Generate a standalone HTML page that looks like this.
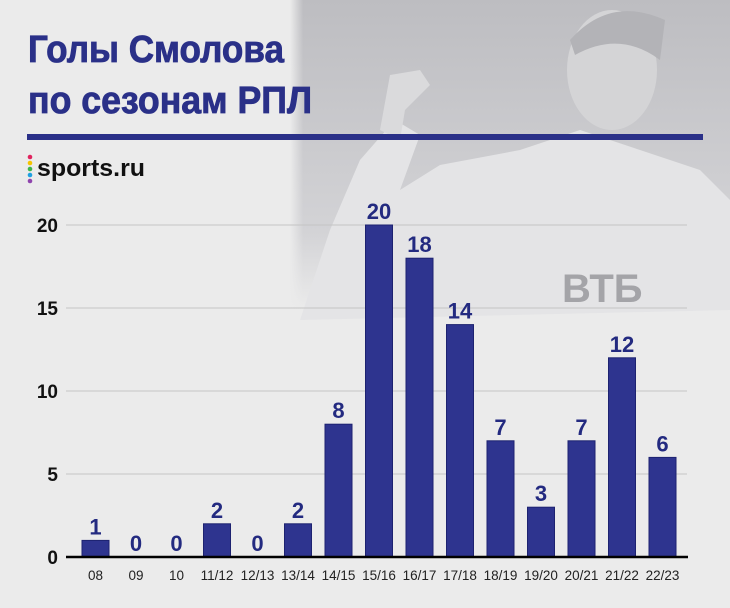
<!DOCTYPE html>
<html><head><meta charset="utf-8"><style>
html,body{margin:0;padding:0;background:#ebebeb;}
svg{display:block;}
</style></head><body>
<svg width="730" height="608" viewBox="0 0 730 608" xmlns="http://www.w3.org/2000/svg">
<defs>
<linearGradient id="fadeB" x1="0" y1="0" x2="0" y2="1">
<stop offset="0" stop-color="#bdbdc1"/><stop offset="0.75" stop-color="#d3d3d6"/><stop offset="1" stop-color="#ebebeb"/>
</linearGradient>
<linearGradient id="fadeL" x1="0" y1="0" x2="1" y2="0">
<stop offset="0" stop-color="#ebebeb" stop-opacity="1"/><stop offset="0.03" stop-color="#ebebeb" stop-opacity="0"/>
</linearGradient>
</defs>
<rect width="730" height="608" fill="#ebebeb"/>
<g>
<rect x="290" y="0" width="440" height="310" fill="url(#fadeB)"/>
<path d="M300 320 L330 230 L360 160 L395 120 L420 135 L400 190 L440 165 L520 150 L580 130 L640 150 L700 170 L730 200 L730 310 Z" fill="#e4e4e6"/>
<path d="M380 130 L390 75 L420 70 L430 85 L405 110 L400 140 Z" fill="#dadadc"/>
<ellipse cx="612" cy="70" rx="45" ry="60" fill="#d4d4d6"/>
<path d="M570 40 Q610 -5 665 20 L660 60 Q620 30 575 55 Z" fill="#b3b3b7"/>
<text x="562" y="302" font-family="Liberation Sans, sans-serif" font-weight="bold" font-size="40" fill="#a4a4a8">ВТБ</text>
<rect x="290" y="0" width="440" height="310" fill="url(#fadeL)"/>
</g>
<text x="28" y="62" font-family="Liberation Sans, sans-serif" font-weight="bold" font-size="38" fill="#2a3088" stroke="#2a3088" stroke-width="0.8" textLength="256" lengthAdjust="spacingAndGlyphs">Голы Смолова</text>
<text x="28" y="113" font-family="Liberation Sans, sans-serif" font-weight="bold" font-size="38" fill="#2a3088" stroke="#2a3088" stroke-width="0.8" textLength="284" lengthAdjust="spacingAndGlyphs">по сезонам РПЛ</text>
<rect x="27" y="134" width="676" height="6" fill="#2a3088"/>
<g>
<circle cx="30" cy="157" r="2.3" fill="#e0245e"/><circle cx="30" cy="163" r="2.3" fill="#f5c400"/><circle cx="30" cy="169" r="2.3" fill="#3bb54a"/><circle cx="30" cy="175" r="2.3" fill="#1ea0e0"/><circle cx="30" cy="181" r="2.3" fill="#8e44ad"/>
<text x="37" y="176" font-family="Liberation Sans, sans-serif" font-weight="bold" font-size="24" fill="#111" textLength="108" lengthAdjust="spacingAndGlyphs">sports.ru</text>
</g>
<g id="plot"></g>
</svg>
<script>
const categories=["08","09","10","11/12","12/13","13/14","14/15","15/16","16/17","17/18","18/19","19/20","20/21","21/22","22/23"];
const goals=[1,0,0,2,0,2,8,20,18,14,7,3,7,12,6];
const yTicks=[0,5,10,15,20];
const NS="http://www.w3.org/2000/svg";
const g=document.getElementById('plot');
const y0=557, unit=(557-225)/20;
const yScale=v=>y0-v*unit;
const xScale=i=>82+i*40.5;
const bw=27;
function mk(t,a){const e=document.createElementNS(NS,t);for(const k in a)e.setAttribute(k,a[k]);g.appendChild(e);return e;}
yTicks.forEach(t=>{
 if(t>0){const l=mk('line',{x1:66,x2:687,y1:yScale(t),y2:yScale(t),stroke:'#c4c4c4','stroke-width':1});
 
 }
 const tx=mk('text',{x:58,y:yScale(t)+7,'text-anchor':'end','font-family':'Liberation Sans, sans-serif','font-weight':'bold','font-size':19,fill:'#111'});
 tx.textContent=t;
 
 
});
goals.forEach((v,i)=>{
 const x=xScale(i);
 if(v>0){const r=mk('rect',{x:x,y:yScale(v),width:bw,height:v*unit,fill:'#2e348f',stroke:'#1d2270','stroke-width':1});
 
 }
 const vl=mk('text',{x:x+bw/2,y:yScale(v)-6,'text-anchor':'middle','font-family':'Liberation Sans, sans-serif','font-weight':'bold','font-size':22,fill:'#232a80'});
 vl.textContent=v;
 
 
 const cl=mk('text',{x:x+bw/2,y:580,'text-anchor':'middle','font-family':'Liberation Sans, sans-serif','font-size':13.5,fill:'#222'});
 cl.textContent=categories[i];
 
 
});
const ax=mk('line',{x1:66,x2:688,y1:y0,y2:y0,stroke:'#000','stroke-width':2.5});


</script>
</body></html>
